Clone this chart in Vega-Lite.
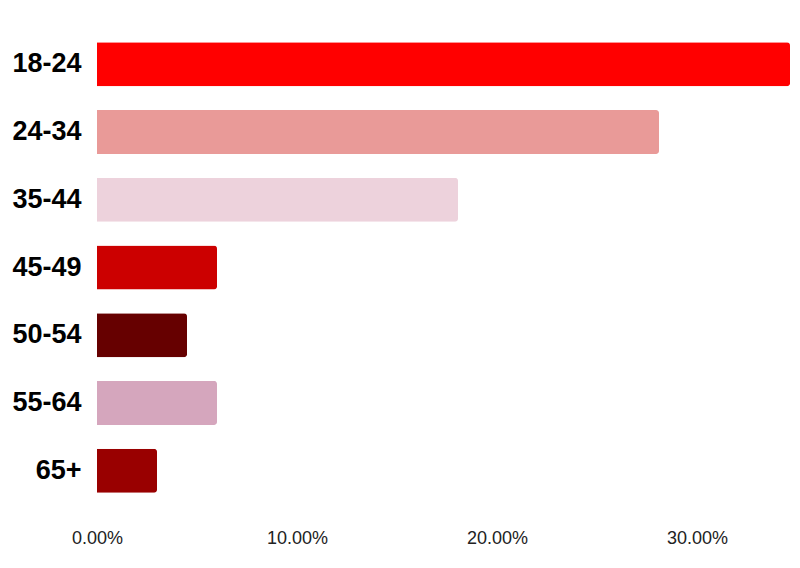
{
  "$schema": "https://vega.github.io/schema/vega-lite/v6.json",
  "width": 700,
  "height": 491,
  "autosize": {"type": "none"},
  "padding": {"left": 97, "top": 22, "right": 3, "bottom": 55},
  "background": "white",
  "config": {"view": {"stroke": null}},
  "data": {
    "values": [
      {"age": "18-24", "share": 0.3465, "color": "#FF0000"},
      {"age": "24-34", "share": 0.281, "color": "#E99A98"},
      {"age": "35-44", "share": 0.1805, "color": "#EDD2DC"},
      {"age": "45-49", "share": 0.06, "color": "#CC0000"},
      {"age": "50-54", "share": 0.045, "color": "#660000"},
      {"age": "55-64", "share": 0.06, "color": "#D5A6BD"},
      {"age": "65+", "share": 0.03, "color": "#990000"}
    ]
  },
  "mark": {"type": "bar", "cornerRadiusEnd": 3},
  "encoding": {
    "y": {
      "field": "age",
      "type": "nominal",
      "sort": null,
      "scale": {"paddingInner": 0.35, "paddingOuter": 0.3},
      "axis": {
        "title": null,
        "domain": false,
        "ticks": false,
        "labelFont": "Liberation Sans",
        "labelFontSize": 27,
        "labelFontWeight": "bold",
        "labelColor": "#000000",
        "labelPadding": 16
      }
    },
    "x": {
      "field": "share",
      "type": "quantitative",
      "scale": {"domain": [0, 0.35], "nice": false},
      "axis": {
        "title": null,
        "domain": false,
        "ticks": false,
        "grid": false,
        "values": [0, 0.1, 0.2, 0.3],
        "format": ".2%",
        "labelFlush": false,
        "labelFont": "Liberation Sans",
        "labelFontSize": 18,
        "labelColor": "#222222",
        "labelPadding": 16
      }
    },
    "color": {"field": "color", "type": "nominal", "scale": null, "legend": null}
  }
}
